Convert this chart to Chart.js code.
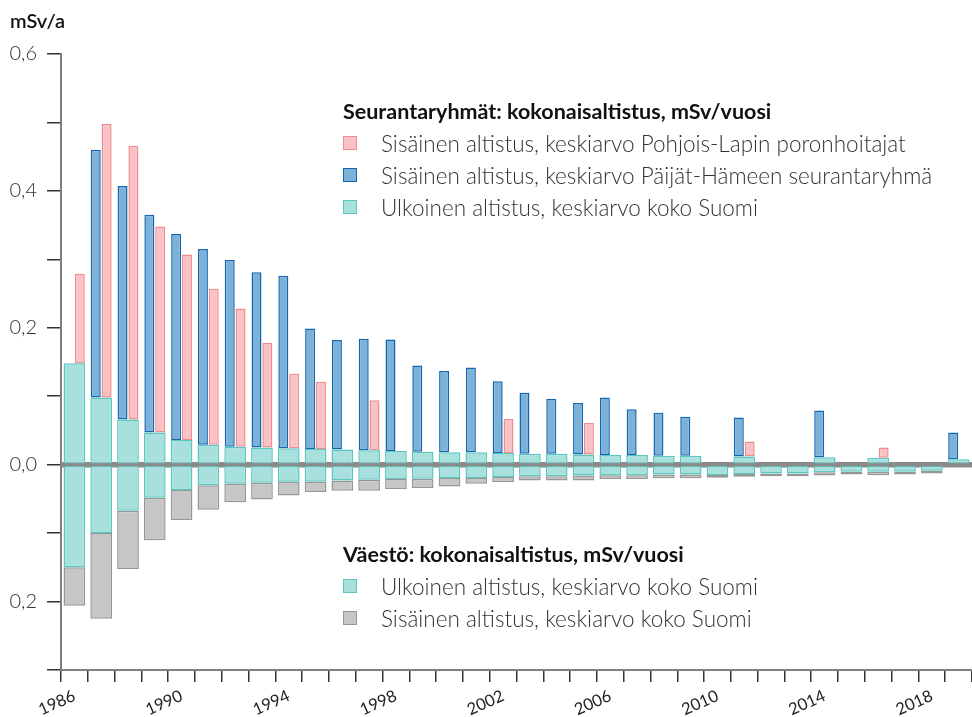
<!DOCTYPE html>
<html lang="fi">
<head>
<meta charset="utf-8">
<title>Kokonaisaltistus, mSv/vuosi</title>
<script src="https://cdn.jsdelivr.net/npm/chart.js@4/dist/chart.umd.min.js"></script>
<style>
  html, body { margin: 0; padding: 0; background: #fff; }
  #wrap { position: relative; width: 972px; height: 717px; }
  .legend { position: absolute; left: 343px; font-family: Lato, "Noto Sans", sans-serif; color: #333; }
  .legend .head { height: 32px; line-height: 32px; font-size: 21.5px; font-weight: 700; color: #111; white-space: nowrap; }
  .legend .row { display: flex; align-items: center; height: 32px; font-size: 22.5px; font-weight: 300; white-space: nowrap; }
  .legend .box { width: 14px; height: 14px; margin-right: 24px; box-sizing: border-box; border: 1.5px solid; flex: none; }
</style>
</head>
<body>
<div id="wrap">
  <canvas id="chart"></canvas>
  <div class="legend" id="legendTop" style="top: 95px"></div>
  <div class="legend" id="legendBottom" style="top: 538px"></div>
</div>
<script>
const years = [
  "1986", "1987", "1988", "1989", "1990", "1991", "1992", "1993", "1994", "1995",
  "1996", "1997", "1998", "1999", "2000", "2001", "2002", "2003", "2004", "2005",
  "2006", "2007", "2008", "2009", "2010", "2011", "2012", "2013", "2014", "2015",
  "2016", "2017", "2018", "2019",
];

// seurantaryhmät (above zero), mSv/a
const ulkoinenSeuranta = [
  0.148, 0.098, 0.066, 0.047, 0.036, 0.029, 0.026, 0.025, 0.024, 0.023,
  0.022, 0.021, 0.020, 0.019, 0.018, 0.018, 0.017, 0.016, 0.016, 0.015,
  0.014, 0.014, 0.013, 0.013, null, 0.012, null, null, 0.011, null,
  0.010, null, null, 0.008,
];
const sisainenPaijatHame = [
  null, 0.362, 0.341, 0.318, 0.301, 0.286, 0.273, 0.256, 0.252, 0.176,
  0.160, 0.163, 0.163, 0.126, 0.119, 0.124, 0.105, 0.089, 0.080, 0.075,
  0.084, 0.067, 0.063, 0.057, null, 0.057, null, null, 0.068, null,
  null, null, null, 0.039,
];
const sisainenLappi = [
  0.131, 0.400, 0.400, 0.301, 0.271, 0.228, 0.202, 0.153, 0.109, 0.098,
  null, 0.073, null, null, null, null, 0.050, null, null, 0.046,
  null, null, null, null, null, 0.022, null, null, null, null,
  0.015, null, null, null,
];

// väestö (drawn below zero), mSv/a
const ulkoinenVaesto = [
  0.150, 0.100, 0.0675, 0.0485, 0.037, 0.030, 0.028, 0.0265, 0.025, 0.025,
  0.023, 0.022, 0.021, 0.0205, 0.0195, 0.0195, 0.018, 0.017, 0.017, 0.016,
  0.0154, 0.0154, 0.0143, 0.0143, 0.015, 0.0135, 0.013, 0.013, 0.0112, 0.0103,
  0.0103, 0.0103, 0.009, null,
];
const sisainenVaesto = [
  0.056, 0.125, 0.085, 0.062, 0.044, 0.036, 0.027, 0.0245, 0.020, 0.015,
  0.015, 0.016, 0.0146, 0.0135, 0.0125, 0.0085, 0.0073, 0.006, 0.006, 0.007,
  0.0056, 0.0056, 0.0057, 0.0057, 0.004, 0.0043, 0.0038, 0.0038, 0.0046, 0.004,
  0.005, 0.004, 0.004, null,
];

const cyan = { fill: "rgb(168, 224, 222)", line: "rgb(90, 200, 192)" };
const blue = { fill: "rgb(124, 178, 216)", line: "rgb(20, 102, 176)" };
const pink = { fill: "rgb(249, 194, 196)", line: "rgb(240, 140, 142)" };
const grey = { fill: "rgb(198, 198, 198)", line: "rgb(150, 150, 150)" };

const fontFamily = 'Lato, "Noto Sans", sans-serif';

// floating bar [from, to] that sits on top of base
const onTop = (base, values) =>
  values.map((v, i) => (v == null ? null : [base[i] || 0, (base[i] || 0) + v]));
const below = (base, values) =>
  values.map((v, i) => (v == null ? null : [-(base[i] || 0) - v, -(base[i] || 0)]));

const wideBar = (label, color, data) => ({
  label,
  data,
  grouped: false,
  categoryPercentage: 0.81,
  barPercentage: 1,
  backgroundColor: color.fill,
  borderColor: color.line,
  borderWidth: 1.5,
  borderSkipped: false,
});

const narrowBar = (label, color, data, stack) => ({
  label,
  data,
  stack,
  categoryPercentage: 0.81,
  barPercentage: 0.92,
  backgroundColor: color.fill,
  borderColor: color.line,
  borderWidth: 1.5,
  borderSkipped: false,
});

const drawZero = (chart, width) => {
  const { ctx, chartArea, scales } = chart;
  const py = scales.y.getPixelForValue(0);
  ctx.save();
  ctx.strokeStyle = "#8a8a8a";
  ctx.lineWidth = width;
  ctx.beginPath();
  ctx.moveTo(chartArea.left, py);
  ctx.lineTo(chartArea.right, py);
  ctx.stroke();
  ctx.restore();
};

const zeroLine = {
  id: "zeroLine",
  beforeDatasetsDraw: (chart) => drawZero(chart, 5.5),
  afterDatasetsDraw: (chart) => drawZero(chart, 3),
};

Chart.defaults.font.family = fontFamily;

const chart = new Chart(document.getElementById("chart"), {
  type: "bar",
  data: {
    labels: years,
    datasets: [
      wideBar("Ulkoinen altistus, keskiarvo koko Suomi", cyan, onTop([], ulkoinenSeuranta)),
      wideBar("Ulkoinen altistus, keskiarvo koko Suomi", cyan, below([], ulkoinenVaesto)),
      wideBar("Sisäinen altistus, keskiarvo koko Suomi", grey, below(ulkoinenVaesto, sisainenVaesto)),
      narrowBar("Sisäinen altistus, keskiarvo Päijät-Hämeen seurantaryhmä", blue,
        onTop(ulkoinenSeuranta, sisainenPaijatHame), "a"),
      narrowBar("Sisäinen altistus, keskiarvo Pohjois-Lapin poronhoitajat", pink,
        onTop(ulkoinenSeuranta, sisainenLappi), "b"),
    ],
  },
  options: {
    responsive: true,
    maintainAspectRatio: false,
    animation: false,
    layout: { padding: { left: 10, right: 0, top: 0, bottom: 0 } },
    plugins: {
      legend: { display: false },
      tooltip: { enabled: false },
      title: {
        display: true,
        text: "mSv/a",
        align: "start",
        color: "#111",
        font: { size: 20, weight: 600 },
        padding: { top: 10, bottom: 20 },
      },
    },
    scales: {
      x: {
        stacked: false,
        grid: { drawOnChartArea: false, offset: true, tickLength: 12, tickColor: "#333", lineWidth: 1.5 },
        border: { color: "#808080", width: 2 },
        ticks: {
          autoSkip: false,
          maxRotation: 24,
          minRotation: 24,
          padding: 4,
          color: "#222",
          font: { size: 16.5, weight: 400 },
          callback: function (value, index) {
            return index % 4 === 0 ? this.getLabelForValue(value) : "";
          },
        },
        afterFit: (scale) => { scale.height = 47; },
      },
      y: {
        stacked: false,
        min: -0.3,
        max: 0.6,
        grid: { drawOnChartArea: false, tickLength: 14, tickColor: "#333", lineWidth: 1.5 },
        border: { color: "#808080", width: 2 },
        ticks: {
          stepSize: 0.1,
          padding: 10,
          color: "#333",
          font: { size: 20, weight: 300 },
          callback: (value) => {
            const k = Math.round(value * 10);
            return k % 2 === 0 ? Math.abs(value).toFixed(1).replace(".", ",") : "";
          },
        },
        afterFit: (scale) => { scale.width = 51; },
      },
    },
  },
  plugins: [zeroLine],
});

const fillLegend = (id, title, entries) => {
  const el = document.getElementById(id);
  const head = document.createElement("div");
  head.className = "head";
  head.textContent = title;
  el.appendChild(head);
  entries.forEach(([label, color]) => {
    const row = document.createElement("div");
    row.className = "row";
    const box = document.createElement("span");
    box.className = "box";
    box.style.background = color.fill;
    box.style.borderColor = color.line;
    row.appendChild(box);
    row.appendChild(document.createTextNode(label));
    el.appendChild(row);
  });
};

fillLegend("legendTop", "Seurantaryhmät: kokonaisaltistus, mSv/vuosi", [
  ["Sisäinen altistus, keskiarvo Pohjois-Lapin poronhoitajat", pink],
  ["Sisäinen altistus, keskiarvo Päijät-Hämeen seurantaryhmä", blue],
  ["Ulkoinen altistus, keskiarvo koko Suomi", cyan],
]);
fillLegend("legendBottom", "Väestö: kokonaisaltistus, mSv/vuosi", [
  ["Ulkoinen altistus, keskiarvo koko Suomi", cyan],
  ["Sisäinen altistus, keskiarvo koko Suomi", grey],
]);
</script>
</body>
</html>
